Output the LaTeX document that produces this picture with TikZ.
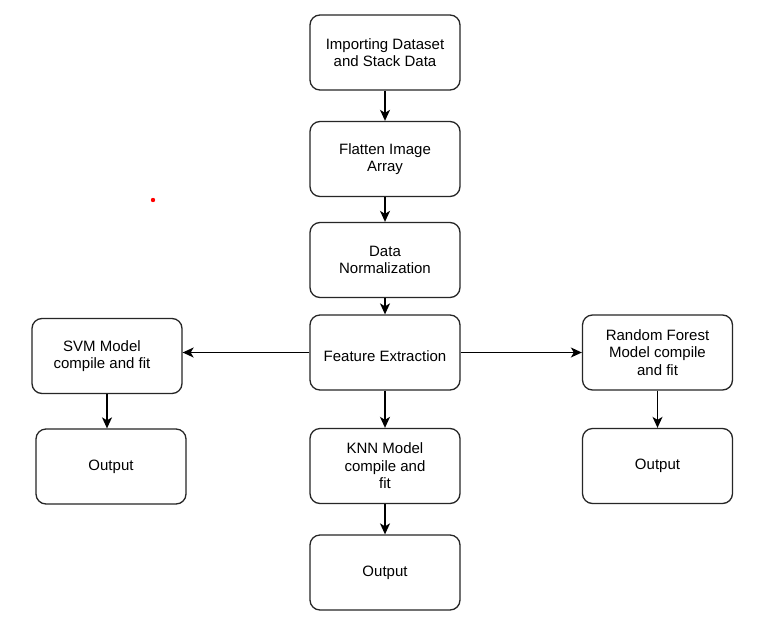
\documentclass[tikz,border=0pt]{standalone}
\usepackage{fontspec}
\setmainfont{Liberation Sans}
\usetikzlibrary{arrows.meta}
\begin{document}
\begin{tikzpicture}[x=1pt,y=-1pt,
  stepbox/.style={draw=black!85, line width=1.3pt, rounded corners=10pt,
    minimum width=150pt, minimum height=75pt, inner sep=0pt,
    align=center, font=\fontsize{15pt}{17.5pt}\selectfont},
  flow/.style={draw=black, line width=1.4pt,
    -{Stealth[length=11pt,width=10pt,inset=3pt]}}]
  \useasboundingbox (0,0) rectangle (762,632);
  \fill[white] (0,0) rectangle (762,632);

  % main column
  \node[stepbox] (imp)  at (385,52.5)  {Importing Dataset\\and Stack Data};
  \node[stepbox] (flat) at (385,159)   {Flatten Image\\Array};
  \node[stepbox] (norm) at (385,260)   {Data\\Normalization};
  \node[stepbox] (feat) at (385,352.5)
    {\raisebox{-4pt}[\height][\depth]{Feature Extraction}};
  \node[stepbox] (knn)  at (385,466)   {KNN Model\\compile and\\fit};
  \node[stepbox] (outb) at (385,572.5) {Output};

  % left branch
  \node[stepbox] (svm)  at (107,356)
    {SVM Model\hspace*{10pt}\\compile and fit\hspace*{10pt}};
  \node[stepbox] (outl) at (111,466.5) {Output};

  % right branch
  \node[stepbox] (rf)   at (657.5,352.5) {Random Forest\\Model compile\\and fit};
  \node[stepbox] (outr) at (657.5,466)   {Output};

  % connectors
  \draw[flow] (imp) -- (flat);
  \draw[flow] (flat) -- (norm);
  \draw[flow] (norm) -- (feat);
  \draw[flow] (feat) -- (knn);
  \draw[flow] (knn) -- (outb);
  \draw[flow] (feat.west) -- (feat.west -| svm.east);
  \draw[flow] (feat.east) -- (feat.east -| rf.west);
  \draw[flow] (svm.south) -- (svm.south |- outl.north);
  \draw[flow] (rf) -- (outr);

  % stray mark
  \coordinate (dot) at (153,200);
  \fill[red] (dot) circle (2.2pt);
\end{tikzpicture}
\end{document}
